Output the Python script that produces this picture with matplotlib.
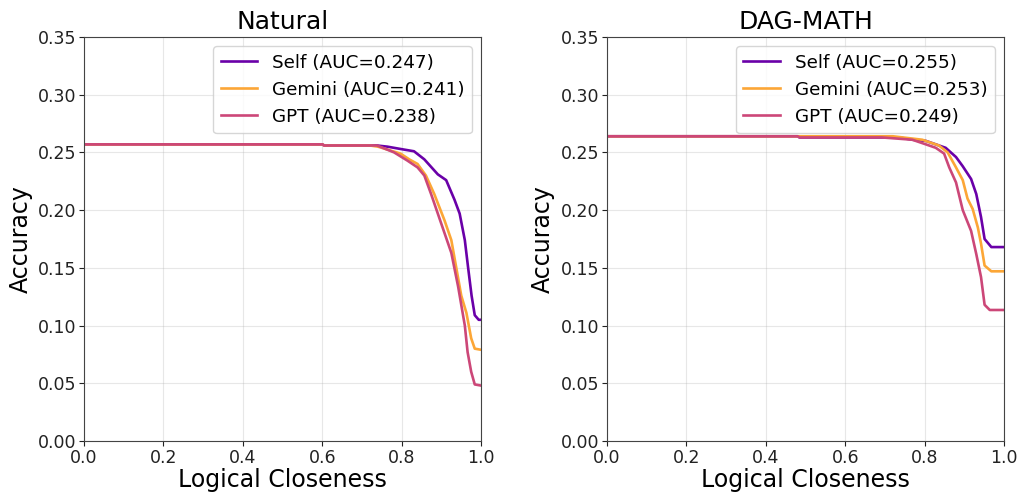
import matplotlib
matplotlib.use("Agg")
from matplotlib import pyplot as plt

# Natural panel
nat_self_x = [0.0, 0.6, 0.605, 0.738, 0.764, 0.797, 0.831, 0.857, 0.891, 0.912, 0.933, 0.946, 0.959, 0.967, 0.976, 0.984, 0.994, 1.0]
nat_self_y = [0.257, 0.257, 0.256, 0.256, 0.255, 0.253, 0.251, 0.244, 0.231, 0.226, 0.209, 0.197, 0.174, 0.151, 0.126, 0.109, 0.105, 0.105]
nat_gem_x = [0.0, 0.6, 0.605, 0.72, 0.74, 0.797, 0.819, 0.840, 0.861, 0.882, 0.908, 0.925, 0.937, 0.950, 0.963, 0.975, 0.984, 1.0]
nat_gem_y = [0.257, 0.257, 0.256, 0.256, 0.255, 0.249, 0.244, 0.240, 0.230, 0.214, 0.191, 0.174, 0.151, 0.126, 0.111, 0.089, 0.080, 0.079]
nat_gpt_x = [0.0, 0.6, 0.605, 0.738, 0.781, 0.814, 0.840, 0.857, 0.874, 0.899, 0.925, 0.942, 0.959, 0.966, 0.975, 0.984, 1.0]
nat_gpt_y = [0.257, 0.257, 0.256, 0.256, 0.250, 0.243, 0.237, 0.230, 0.214, 0.189, 0.163, 0.134, 0.100, 0.077, 0.060, 0.049, 0.048]

# DAG-MATH panel
dag_self_x = [0.0, 0.48, 0.485, 0.735, 0.769, 0.803, 0.828, 0.853, 0.879, 0.896, 0.917, 0.930, 0.942, 0.951, 0.968, 1.0]
dag_self_y = [0.264, 0.264, 0.263, 0.263, 0.261, 0.260, 0.257, 0.254, 0.246, 0.238, 0.227, 0.214, 0.194, 0.175, 0.168, 0.168]
dag_gem_x = [0.0, 0.72, 0.794, 0.836, 0.858, 0.879, 0.896, 0.908, 0.921, 0.934, 0.942, 0.951, 0.968, 1.0]
dag_gem_y = [0.264, 0.264, 0.261, 0.256, 0.250, 0.237, 0.226, 0.210, 0.201, 0.185, 0.171, 0.152, 0.147, 0.147]
dag_gpt_x = [0.0, 0.48, 0.485, 0.692, 0.769, 0.803, 0.828, 0.849, 0.862, 0.879, 0.896, 0.917, 0.930, 0.942, 0.951, 0.964, 1.0]
dag_gpt_y = [0.264, 0.264, 0.263, 0.263, 0.261, 0.257, 0.254, 0.249, 0.237, 0.224, 0.200, 0.182, 0.162, 0.142, 0.118, 0.1135, 0.1135]

titles = ["Natural", "DAG-MATH"]
labels = ["Self", "Gemini", "GPT"]
aucs = [[0.247, 0.241, 0.238], [0.255, 0.253, 0.249]]
colors = ["#6a00a8", "#fca636", "#cc4778"]

panels = [
    [(nat_self_x, nat_self_y), (nat_gem_x, nat_gem_y), (nat_gpt_x, nat_gpt_y)],
    [(dag_self_x, dag_self_y), (dag_gem_x, dag_gem_y), (dag_gpt_x, dag_gpt_y)],
]

fig, axes = plt.subplots(1, 2, figsize=(10.21, 4.96), dpi=100)
fig.subplots_adjust(left=0.0823, right=0.9834, top=0.9254, bottom=0.1109, wspace=0.317)

for i, ax in enumerate(axes):
    for j, (xs, ys) in enumerate(panels[i]):
        ax.plot(xs, ys, color=colors[j], lw=1.9, label=f"{labels[j]} (AUC={aucs[i][j]:.3f})")
    ax.set_xlim(0, 1)
    ax.set_ylim(0, 0.35)
    ax.set_yticks([0, 0.05, 0.1, 0.15, 0.2, 0.25, 0.3, 0.35])
    ax.set_title(titles[i], fontsize=18)
    ax.set_xlabel("Logical Closeness", fontsize=17, labelpad=1)
    ax.set_ylabel("Accuracy", fontsize=17)
    ax.tick_params(labelsize=12.5, colors="#222222", pad=2)
    for s in ax.spines.values():
        s.set_color("#444444")
    ax.grid(True, alpha=0.3)
    ax.legend(loc="upper right", fontsize=13.2)

plt.savefig("out.png", dpi=100)
plt.close()
